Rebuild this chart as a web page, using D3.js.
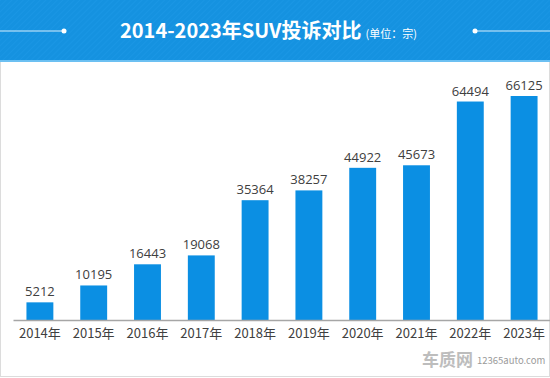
<!DOCTYPE html>
<html>
<head>
<meta charset="utf-8">
<script src="https://cdn.jsdelivr.net/npm/d3@7"></script>
<style>
  body { margin: 0; background: #fff; }
  svg { display: block; font-family: "Noto Sans CJK SC", "Open Sans", sans-serif; }
</style>
</head>
<body>
<svg id="chart" width="550" height="378"></svg>
<script>
const years = ["2014年", "2015年", "2016年", "2017年", "2018年", "2019年", "2020年", "2021年", "2022年", "2023年"];
const complaints = [5212, 10195, 16443, 19068, 35364, 38257, 44922, 45673, 64494, 66125];

const data = years.map((y, i) => ({ year: y, value: complaints[i] }));

const svg = d3.select("#chart");
const width = +svg.attr("width");
const height = +svg.attr("height");

// stripe pattern for header
const defs = svg.append("defs");
const pat = defs.append("pattern")
  .attr("id", "stripes")
  .attr("width", 4)
  .attr("height", 4)
  .attr("patternUnits", "userSpaceOnUse")
  .attr("patternTransform", "rotate(45)");
pat.append("rect").attr("width", 4).attr("height", 4).attr("fill", "#1592e0");
pat.append("rect").attr("width", 1).attr("height", 4).attr("fill", "#1a96e4");

// outer border
svg.append("rect")
  .attr("x", 0.5).attr("y", 0.5)
  .attr("width", width - 1).attr("height", height - 2)
  .attr("fill", "#fff")
  .attr("stroke", "#dcdcdc");

// header
svg.append("rect")
  .attr("x", 0).attr("y", 0)
  .attr("width", width).attr("height", 61)
  .attr("fill", "url(#stripes)");
svg.append("rect")
  .attr("x", 0).attr("y", 60)
  .attr("width", width).attr("height", 2)
  .attr("fill", "#6cc0f2");

// decorative lines
svg.append("line").attr("x1", 0).attr("x2", 64).attr("y1", 31).attr("y2", 31)
  .attr("stroke", "#d8eefc").attr("stroke-width", 1.2);
svg.append("circle").attr("cx", 64).attr("cy", 31).attr("r", 2.5).attr("fill", "#fff");
svg.append("line").attr("x1", 475).attr("x2", width).attr("y1", 31).attr("y2", 31)
  .attr("stroke", "#d8eefc").attr("stroke-width", 1.2);
svg.append("circle").attr("cx", 475).attr("cy", 31).attr("r", 2.5).attr("fill", "#fff");

const title = svg.append("text")
  .attr("x", 120)
  .attr("y", 38)
  .attr("fill", "#fff");
title.append("tspan")
  .attr("font-size", "20px")
  .attr("font-weight", "bold")
  .text("2014-2023年SUV投诉对比");
title.append("tspan")
  .attr("dx", 4)
  .attr("font-size", "11px")
  .text("(单位：宗)");

// chart area
const baseY = 320;

const x = d3.scaleBand()
  .domain(years)
  .range([13, 551])
  .paddingInner(0.5)
  .paddingOuter(0.25);

const y = d3.scaleLinear()
  .domain([0, 66125])
  .range([baseY, 96]);

svg.selectAll(".bar")
  .data(data)
  .enter()
  .append("rect")
  .attr("class", "bar")
  .attr("x", d => x(d.year))
  .attr("y", d => y(d.value))
  .attr("width", x.bandwidth())
  .attr("height", d => baseY - y(d.value))
  .attr("fill", "#0b8fe3");

svg.selectAll(".val")
  .data(data)
  .enter()
  .append("text")
  .attr("class", "val")
  .attr("x", d => x(d.year) + x.bandwidth() / 2)
  .attr("y", d => y(d.value) - 6)
  .attr("text-anchor", "middle")
  .attr("font-size", "13px")
  .attr("font-family", "\"Open Sans\", sans-serif")
  .attr("fill", "#404040")
  .text(d => d.value);

const axis = svg.append("g")
  .attr("transform", `translate(0, ${baseY})`)
  .call(d3.axisBottom(x).tickSize(0).tickPadding(9));
axis.select(".domain").attr("stroke", "#a6a6a6").attr("stroke-width", 1.5);
axis.selectAll("text")
  .attr("font-size", "13px")
  .attr("fill", "#404040")
  .attr("font-family", "\"Noto Sans CJK SC\", sans-serif");

// watermark
svg.append("text")
  .attr("x", 422)
  .attr("y", 366)
  .attr("font-size", "17px")
  .attr("font-weight", "bold")
  .attr("fill", "#bdbdbd")
  .text("车质网");
svg.append("text")
  .attr("x", 477)
  .attr("y", 364)
  .attr("font-size", "9.5px")
  .attr("fill", "#9a9a9a")
  .text("12365auto.com");
</script>
</body>
</html>
